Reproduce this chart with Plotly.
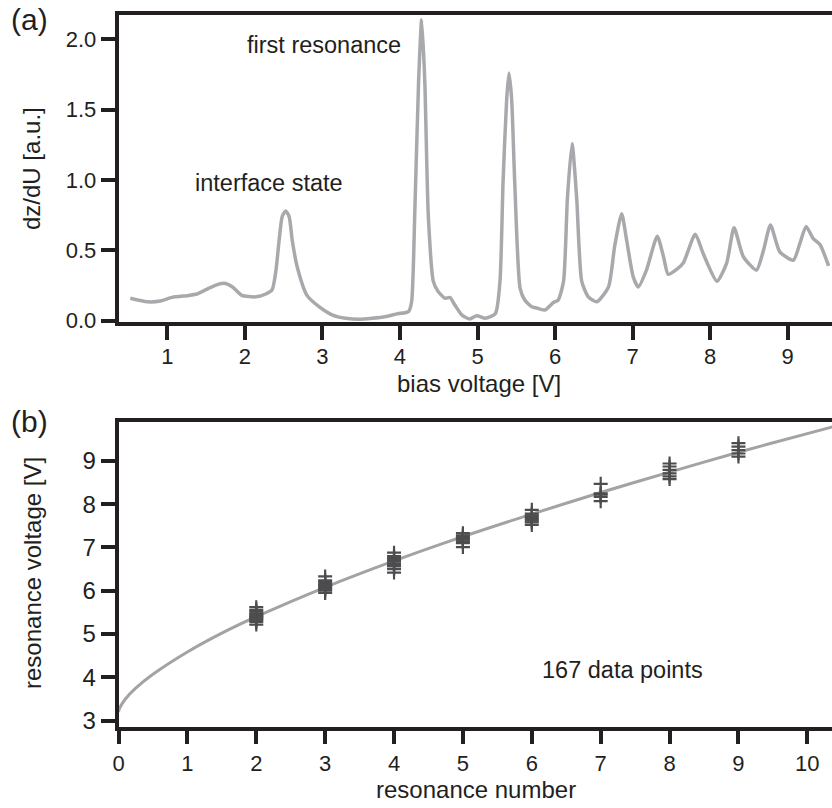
import plotly.graph_objects as go

# ---------------- data: panel (a) ----------------
bias_v = [0.52, 0.74, 0.91, 1.06, 1.28, 1.38, 1.53, 1.66, 1.75, 1.84, 1.96, 2.14, 2.27, 2.35,
          2.40, 2.44, 2.48, 2.525, 2.57, 2.61, 2.675, 2.80, 2.955, 3.13, 3.30, 3.47, 3.64, 3.82,
          3.97, 4.11, 4.15, 4.19, 4.24, 4.28, 4.32, 4.365, 4.43, 4.49, 4.58, 4.645, 4.71, 4.80,
          4.90, 4.99, 5.10, 5.23, 5.29, 5.33, 5.377, 5.406, 5.44, 5.48, 5.55, 5.61, 5.70, 5.78,
          5.87, 5.98, 6.04, 6.11, 6.16, 6.22, 6.28, 6.345, 6.43, 6.54, 6.69, 6.77, 6.86, 6.925,
          7.01, 7.075, 7.18, 7.32, 7.40, 7.46, 7.57, 7.655, 7.81, 7.91, 8.09, 8.215, 8.31, 8.43,
          8.60, 8.69, 8.78, 8.90, 9.075, 9.16, 9.24, 9.33, 9.42, 9.53]
dzdu = [0.16, 0.135, 0.14, 0.166, 0.18, 0.19, 0.23, 0.26, 0.265, 0.24, 0.18, 0.17, 0.19, 0.22,
        0.36, 0.57, 0.74, 0.78, 0.74, 0.57, 0.38, 0.18, 0.10, 0.04, 0.017, 0.01, 0.017, 0.03,
        0.05, 0.065, 0.135, 0.75, 1.70, 2.14, 1.70, 0.75, 0.28, 0.21, 0.16, 0.165, 0.11, 0.04,
        0.012, 0.036, 0.017, 0.05, 0.28, 0.99, 1.58, 1.76, 1.58, 0.99, 0.23, 0.147, 0.10, 0.088,
        0.076, 0.13, 0.147, 0.28, 0.87, 1.26, 0.87, 0.28, 0.17, 0.135, 0.24, 0.53, 0.76, 0.57,
        0.31, 0.24, 0.36, 0.60, 0.455, 0.33, 0.365, 0.41, 0.615, 0.48, 0.28, 0.41, 0.66, 0.455,
        0.36, 0.50, 0.68, 0.49, 0.43, 0.55, 0.67, 0.585, 0.54, 0.39]
xa_ticks = [1, 2, 3, 4, 5, 6, 7, 8, 9]
ya_ticks = [0.0, 0.5, 1.0, 1.5, 2.0]

# ---------------- data: panel (b) ----------------
res_n2 = [5.22, 5.28, 5.32, 5.35, 5.38, 5.40, 5.42, 5.45, 5.48, 5.52, 5.56, 5.62]
res_n3 = [5.95, 6.00, 6.04, 6.07, 6.10, 6.13, 6.16, 6.20, 6.24, 6.33]
res_n4 = [6.42, 6.50, 6.56, 6.60, 6.63, 6.67, 6.71, 6.76, 6.80, 6.88]
res_n5 = [7.01, 7.10, 7.14, 7.18, 7.21, 7.24, 7.28, 7.33]
res_n6 = [7.52, 7.58, 7.62, 7.66, 7.70, 7.74, 7.78, 7.87]
res_n7 = [8.07, 8.17, 8.22, 8.25, 8.47]
res_n8 = [8.58, 8.64, 8.71, 8.79, 8.87, 8.94]
res_n9 = [9.10, 9.17, 9.25, 9.33, 9.41]
res_groups = {2: res_n2, 3: res_n3, 4: res_n4, 5: res_n5, 6: res_n6, 7: res_n7, 8: res_n8, 9: res_n9}

fit_n = [0, 0.02, 0.1, 0.25, 0.5, 1, 1.5, 2, 3, 4, 5, 6, 7, 8, 9, 10, 10.4]
fit_v = [3.20, 3.30, 3.50, 3.75, 4.07, 4.585, 5.02, 5.40, 6.08, 6.69, 7.25, 7.77, 8.27, 8.74,
         9.20, 9.63, 9.80]
xb_ticks = [0, 1, 2, 3, 4, 5, 6, 7, 8, 9, 10]
yb_ticks = [3, 4, 5, 6, 7, 8, 9]

FONT = "Liberation Sans, Arial, Helvetica, sans-serif"
INK = "#231f20"
GREY = "#a7a9ac"
W, H = 832, 808
PAD = "\u00a0\u00a0"  # keeps y tick labels clear of the tick marks

pts_x, pts_y = [], []
for n, vals in res_groups.items():
    for v in vals:
        pts_x.append(n)
        pts_y.append(v)

fig = go.Figure()
fig.add_trace(go.Scatter(x=bias_v, y=dzdu, mode="lines", xaxis="x", yaxis="y",
                         line=dict(color=GREY, width=3.5, shape="spline", smoothing=0.6),
                         showlegend=False, hoverinfo="skip"))
fig.add_trace(go.Scatter(x=fit_n, y=fit_v, mode="lines", xaxis="x2", yaxis="y2",
                         line=dict(color="#a3a3a3", width=3, shape="spline", smoothing=0.8),
                         showlegend=False, hoverinfo="skip"))
fig.add_trace(go.Scatter(x=pts_x, y=pts_y, mode="markers", xaxis="x2", yaxis="y2",
                         marker=dict(symbol="cross-thin", size=10,
                                     line=dict(color="#4d4d4f", width=2.2)),
                         showlegend=False, hoverinfo="skip"))

x_dom = [118.5 / W, 1.0]
axis_common = dict(showline=True, linecolor=INK, linewidth=3.5, ticks="outside",
                   tickcolor=INK, tickwidth=3.5, ticklen=14, showgrid=False, zeroline=False,
                   automargin=False)

fig.update_layout(
    width=W, height=H, margin=dict(l=0, r=0, t=0, b=0),
    paper_bgcolor="white", plot_bgcolor="white",
    font=dict(family=FONT, color=INK),
    xaxis=dict(domain=x_dom, anchor="y", range=[0.368, 9.574], tickvals=xa_ticks,
               mirror=True, tickfont=dict(size=22), ticklabelstandoff=-2, **axis_common),
    yaxis=dict(domain=[1 - 322 / H, 1 - 15 / H], anchor="x", range=[-0.009, 2.173],
               tickvals=ya_ticks, tickformat=".1f", tickfont=dict(size=22),
               ticksuffix=PAD, **axis_common),
    xaxis2=dict(domain=x_dom, anchor="y2", range=[0, 10.358], tickvals=xb_ticks,
                mirror=True, tickfont=dict(size=22), ticklabelstandoff=0, **axis_common),
    yaxis2=dict(domain=[1 - 726.7 / H, 1 - 421.7 / H], anchor="x2", range=[2.86, 9.905],
                tickvals=yb_ticks, tickfont=dict(size=24), ticksuffix=PAD,
                **axis_common),
)


def paper_text(text, px, py, size, angle=0):
    return dict(text=text, x=px / W, y=1 - py / H, xref="paper", yref="paper",
                xanchor="center", yanchor="middle", showarrow=False, textangle=angle,
                font=dict(size=size, color=INK, family=FONT))


fig.update_layout(annotations=[
    dict(text="first resonance", x=3.02, y=1.96, xref="x", yref="y", showarrow=False,
         font=dict(size=23.5, color=INK)),
    dict(text="interface state", x=2.31, y=0.98, xref="x", yref="y", showarrow=False,
         font=dict(size=23.5, color=INK)),
    dict(text="167 data points", x=7.32, y=4.16, xref="x2", yref="y2", showarrow=False,
         font=dict(size=23.5, color=INK)),
    paper_text("bias voltage [V]", 479, 383, 24),
    paper_text("resonance number", 476, 789, 24),
    paper_text("dz/dU [a.u.]", 32, 169, 24, -90),
    paper_text("resonance voltage [V]", 32, 573, 24, -90),
    paper_text("(a)", 30, 19, 30),
    paper_text("(b)", 30, 421, 30),
])

fig.write_html("out.html")
